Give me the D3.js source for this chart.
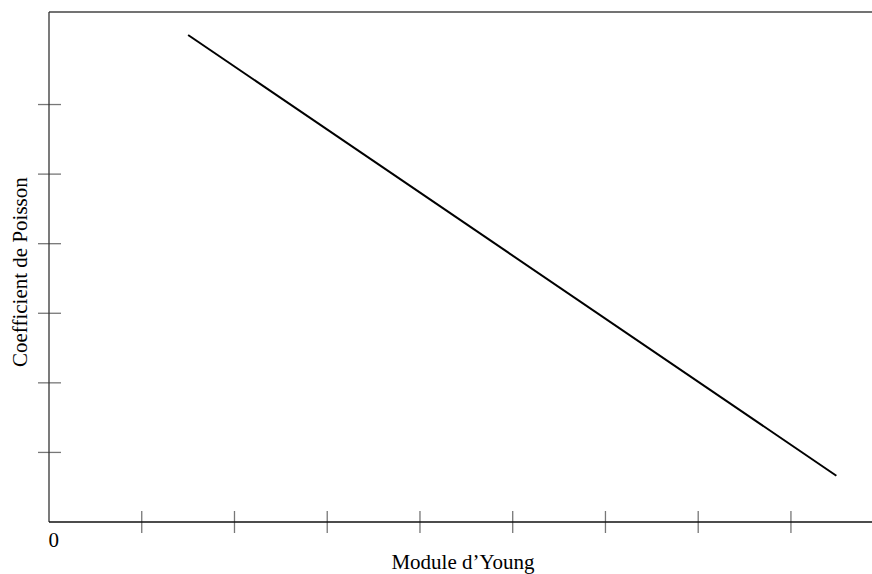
<!DOCTYPE html>
<html>
<head>
<meta charset="utf-8">
<script src="https://cdn.jsdelivr.net/npm/d3@7"></script>
<style>
  body { margin: 0; background: #fff; }
  text { font-family: "Liberation Serif", "Times New Roman", serif; }
</style>
</head>
<body>
<div id="chart"></div>
<script>
var svgWidth = 872;
var svgHeight = 574;

var margin = { top: 12, right: 0, bottom: 52, left: 49 };
var width = svgWidth - margin.left - margin.right;
var height = svgHeight - margin.top - margin.bottom;

// data (arbitrary units, one unit per tick)
var xTicks = [1, 2, 3, 4, 5, 6, 7, 8];
var yTicks = [1, 2, 3, 4, 5, 6];
var lineX = [1.5, 8.49];
var lineY = [7.0, 0.665];
var xLabel = 'Module d\u2019Young';
var yLabel = 'Coefficient de Poisson';

var svg = d3.select('#chart')
    .append('svg')
    .attr('width', svgWidth)
    .attr('height', svgHeight);

var chartGroup = svg.append('g')
    .attr('transform', `translate(${margin.left}, ${margin.top})`);

var xScale = d3.scaleLinear()
    .domain([0, 8.874])
    .range([0, width]);

var yScale = d3.scaleLinear()
    .domain([0, 7.33])
    .range([height, 0]);

// top border
chartGroup.append('line')
    .attr('x1', 0).attr('x2', width)
    .attr('y1', 0).attr('y2', 0)
    .attr('stroke', '#444').attr('stroke-width', 1.3);

// ticks crossing the axes
chartGroup.selectAll('.xtick')
    .data(xTicks)
    .enter()
    .append('line')
    .attr('class', 'xtick')
    .attr('x1', d => xScale(d)).attr('x2', d => xScale(d))
    .attr('y1', height - 11).attr('y2', height + 11)
    .attr('stroke', '#777').attr('stroke-width', 1.3);

chartGroup.selectAll('.ytick')
    .data(yTicks)
    .enter()
    .append('line')
    .attr('class', 'ytick')
    .attr('y1', d => yScale(d)).attr('y2', d => yScale(d))
    .attr('x1', -11).attr('x2', 12)
    .attr('stroke', '#777').attr('stroke-width', 1.3);

// axes lines
chartGroup.append('line')
    .attr('x1', 0).attr('x2', 0)
    .attr('y1', 0).attr('y2', height)
    .attr('stroke', '#333').attr('stroke-width', 1.3);

chartGroup.append('line')
    .attr('x1', 0).attr('x2', width)
    .attr('y1', height).attr('y2', height)
    .attr('stroke', '#111').attr('stroke-width', 1.3);

// the data line
var lineData = lineX.map((x, i) => [x, lineY[i]]);
chartGroup.append('path')
    .datum(lineData)
    .attr('fill', 'none')
    .attr('stroke', '#000')
    .attr('stroke-width', 2)
    .attr('d', d3.line().x(d => xScale(d[0])).y(d => yScale(d[1])));

// labels
svg.append('text')
    .attr('x', 48.5)
    .attr('y', 547)
    .attr('font-size', '21px')
    .text('0');

svg.append('text')
    .attr('x', 463)
    .attr('y', 569)
    .attr('text-anchor', 'middle')
    .attr('font-size', '21px')
    .text(xLabel);

svg.append('text')
    .attr('transform', 'rotate(-90)')
    .attr('x', -367)
    .attr('y', 27)
    .attr('text-anchor', 'start')
    .attr('font-size', '21px')
    .text(yLabel);
</script>
</body>
</html>
